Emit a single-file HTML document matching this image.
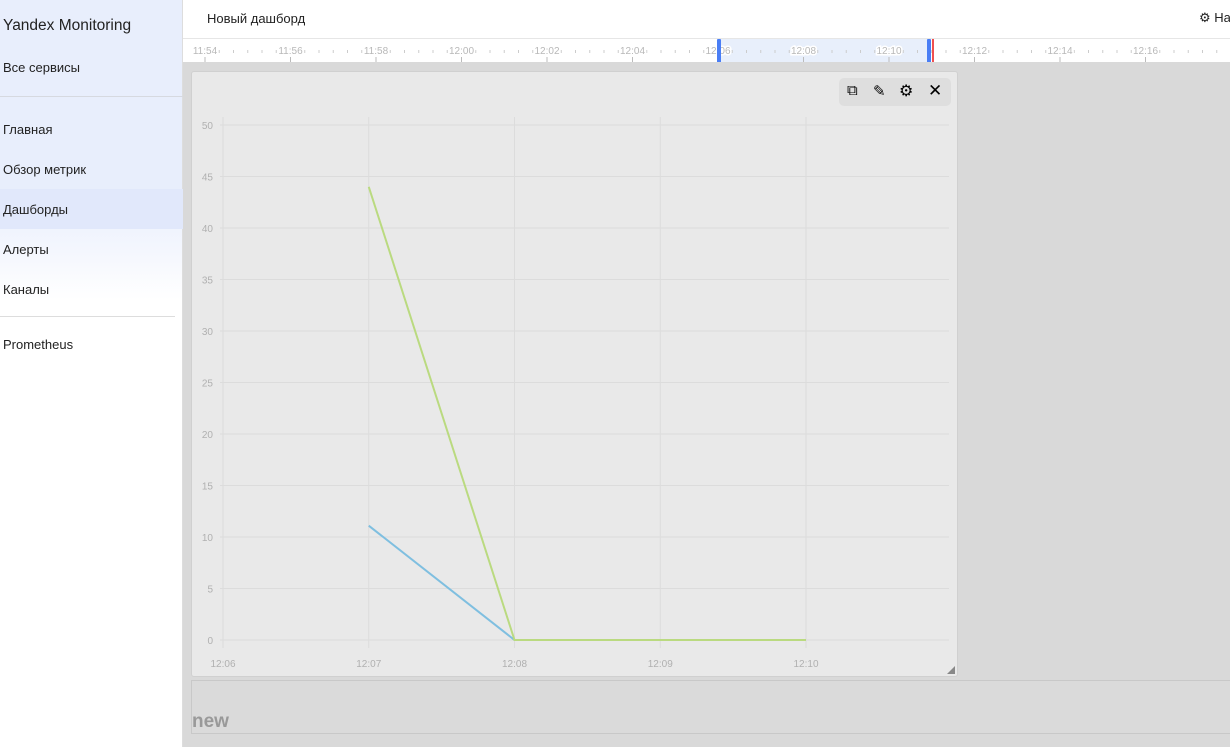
<!DOCTYPE html>
<html><head><meta charset="utf-8">
<style>
*{box-sizing:border-box;margin:0;padding:0}
body{width:1230px;height:747px;overflow:hidden;font-family:"Liberation Sans","DejaVu Sans",sans-serif;background:#d9d9d9;position:relative}
#side{position:absolute;left:0;top:0;width:183px;height:747px;background:linear-gradient(#e8eefc 0,#e8eefc 190px,#f6f8fe 260px,#fff 300px,#fff);border-right:1px solid #ddd}
#side div{position:absolute;left:3px;font-size:13px;color:#222;white-space:nowrap}
#top{position:absolute;left:183px;top:0;width:1047px;height:38px;background:#fff}
#tl{position:absolute;left:183px;top:38px;width:1047px;height:24px;background:#fff;border-top:1px solid #e6e6e6}
</style></head><body>
<div id="side">
<div style="top:17px;font-size:15.5px">Yandex Monitoring</div>
<div style="top:60px">Все сервисы</div>
<span style="position:absolute;left:0;top:96px;width:183px;height:1px;background:#d6d9e0"></span>
<div style="top:122px">Главная</div>
<div style="top:162px">Обзор метрик</div>
<span style="position:absolute;left:0;top:189px;width:183px;height:40px;background:#e1e8fb"></span>
<div style="top:202px">Дашборды</div>
<div style="top:242px">Алерты</div>
<div style="top:282px">Каналы</div>
<span style="position:absolute;left:0;top:316px;width:175px;height:1px;background:#ddd"></span>
<div style="top:337px">Prometheus</div>
</div>
<div id="top">
<div style="position:absolute;left:24px;top:11px;font-size:13px;color:#222">Новый дашборд</div>
<div style="position:absolute;left:1016px;top:10px;font-size:13px;color:#222;white-space:nowrap">⚙ На</div>
</div>
<svg id="tl" width="1047" height="24"></svg>
<div style="position:absolute;left:191px;top:71px;width:767px;height:606px;background:#e9e9e9;border:1px solid #d0d0d0;border-radius:3px">
<div style="position:absolute;left:647px;top:6px;width:112px;height:28px;background:#dedede;border-radius:5px">
<span style="position:absolute;left:8px;top:4px;font-size:15px">⧉</span>
<span style="position:absolute;left:34px;top:4px;font-size:15px">✎</span>
<span style="position:absolute;left:60px;top:3px;font-size:16px">⚙</span>
<span style="position:absolute;left:89px;top:3px;font-size:17px">✕</span>
</div>
<span style="position:absolute;right:2px;bottom:2px;width:0;height:0;border-left:8px solid transparent;border-bottom:8px solid #888"></span>
</div>
<svg id="chart" width="1230" height="747" style="position:absolute;left:0;top:0"></svg>
<div style="position:absolute;left:191px;top:680px;width:1045px;height:54px;background:#dadada;border:1px solid #c8c8c8">
<div style="position:absolute;left:0;top:30px;font-size:19px;font-weight:bold;color:#999">new</div>
</div>
<script>
const NS="http://www.w3.org/2000/svg";
const xLabels=["12:06","12:07","12:08","12:09","12:10"];
const yTicks=[0,5,10,15,20,25,30,35,40,45,50];
const seriesGreen=[44,0,0,0];
const seriesBlue=[11.1,0,0,0];
const pointTimes=[1,2,3,4];
const tlLabels=["11:54","11:56","11:58","12:00","12:02","12:04","12:06","12:08","12:10","12:12","12:14","12:16"];
function x(m){return 223+m*145.75}
function y(v){return 640-v*10.3}
function mk(p,tag,a){const e=document.createElementNS(NS,tag);for(const k in a)e.setAttribute(k,a[k]);p.appendChild(e);return e}
const c=document.getElementById('chart');
yTicks.forEach(v=>{
 const l=mk(c,'line',{x1:220,x2:949,y1:y(v),y2:y(v),stroke:'#dcdcdc'});
 
 
 const t=mk(c,'text',{x:213,y:y(v)+4,'text-anchor':'end','font-size':10,fill:'#b0b0b0','font-family':'Liberation Sans'});t.textContent=v;
 
 
});
xLabels.forEach((s,i)=>{
 const l=mk(c,'line',{x1:x(i),x2:x(i),y1:117,y2:648,stroke:'#dcdcdc'});
 
 
 const t=mk(c,'text',{x:x(i),y:667,'text-anchor':'middle','font-size':10,fill:'#b0b0b0','font-family':'Liberation Sans'});t.textContent=s;
 
 
});
[[seriesBlue,'#7fbfe0','series-blue'],[seriesGreen,'#bada80','series-green']].forEach(([d,col,n])=>{
 const p=mk(c,'polyline',{points:d.map((v,i)=>x(pointTimes[i])+','+y(v)).join(' '),fill:'none',stroke:col,'stroke-width':2});
 
 
});
const tl=document.getElementById('tl');
const sel=mk(tl,'rect',{x:535,y:0,width:211,height:24,fill:'#e8effb'});


for(let i=0;i<80;i++){const xx=22+i*14.25;if(i%6)mk(tl,'line',{x1:xx,x2:xx,y1:11,y2:14,stroke:'#ccc'});else mk(tl,'line',{x1:xx,x2:xx,y1:18,y2:24,stroke:'#bbb'});}
tlLabels.forEach((s,i)=>{const t=mk(tl,'text',{x:22+i*85.5,y:15,'text-anchor':'middle','font-size':10,fill:'#b8b8b8','font-family':'Liberation Sans',style:'paint-order:stroke',stroke:'#fff','stroke-width':3});t.textContent=s;
 
 });
mk(tl,'rect',{x:534,y:0,width:4,height:24,fill:'#4a7ef5',rx:1});
mk(tl,'rect',{x:744,y:0,width:4,height:24,fill:'#4a7ef5',rx:1});
mk(tl,'rect',{x:749,y:0,width:2,height:24,fill:'#f05050'});
</script>
</body></html>
